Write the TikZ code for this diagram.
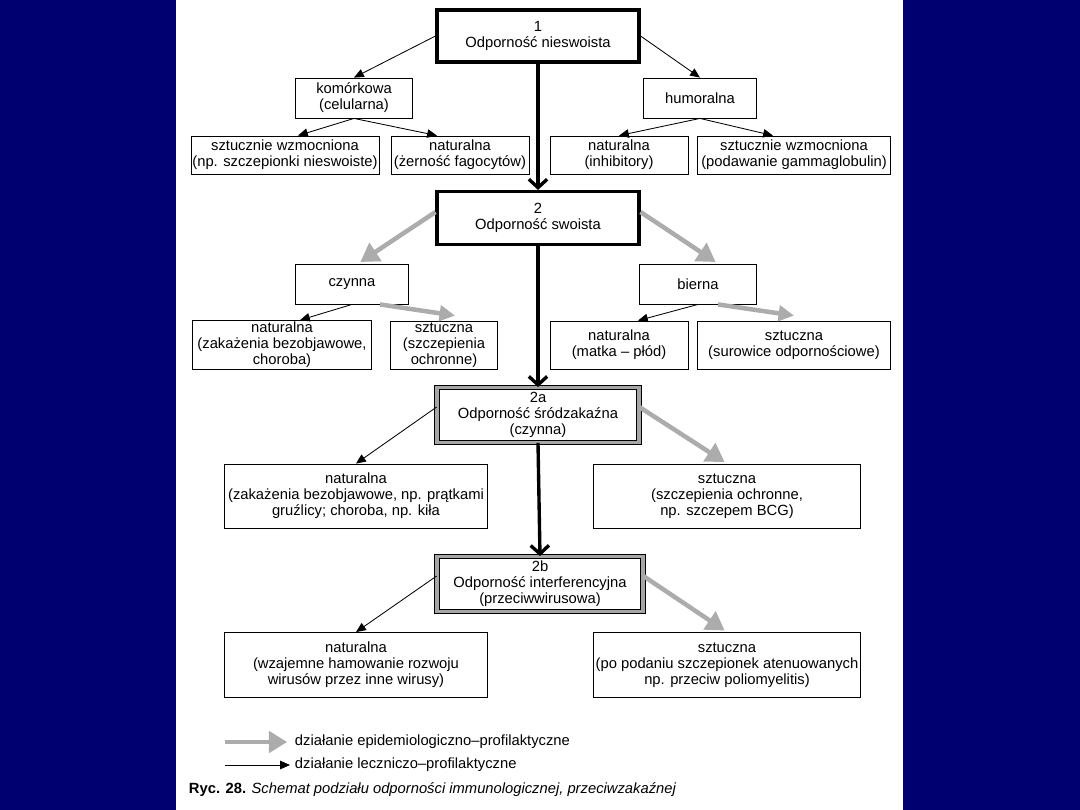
\documentclass[tikz,border=0pt]{standalone}
\usepackage{fontspec}
\setmainfont{Liberation Sans}
\usetikzlibrary{arrows.meta, calc}
\definecolor{slidebg}{RGB}{0,0,112}
\tikzstyle{box} = [rectangle, draw=black, line width=0.6pt, fill=white, align=center, inner sep=1pt, font=\fontsize{10.5}{11.5}\selectfont]
\tikzstyle{mainbox} = [box, line width=2.2pt]
\tikzstyle{hatchbox} = [box, line width=0.5pt, double=gray!70, double distance=2.6pt]
\tikzstyle{arrow} = [line width=0.6pt, -{Triangle[length=7pt, width=6pt]}]
\tikzstyle{greyarrow} = [draw=gray!65, line width=3.2pt, shorten >=2pt, -{Triangle[length=13pt, width=15pt]}]
\tikzstyle{mainarrow} = [line width=2.4pt, -{Straight Barb[length=6pt, width=13pt]}]

\begin{document}
\begin{tikzpicture}[x=0.025cm, y=-0.025cm, sz/.style 2 args={minimum width=#1*0.025cm, minimum height=#2*0.025cm}]
  \fill[slidebg] (0,0) rectangle (1080,810);
  \fill[white] (176,0) rectangle (903,810);

  % 1
  \node[mainbox, sz={202}{52}] (n1) at (538,36) {1\\Odporność nieswoista};
  \node[box, sz={117}{40}] (kom) at (354,98) {komórkowa\\(celularna)};
  \node[box, sz={113}{40}] (hum) at (700,98) {humoralna};
  \node[box, sz={185}{38}] (szw1) at (285,155) {sztucznie wzmocniona\\(np. szczepionki nieswoiste)};
  \node[box, sz={138}{38}] (nat1) at (460,155) {naturalna\\(żerność fagocytów)};
  \node[box, sz={138}{38}] (nat2) at (619,155) {naturalna\\(inhibitory)};
  \node[box, sz={193}{38}] (szw2) at (794,155) {sztucznie wzmocniona\\(podawanie gammaglobulin)};

  % 2
  \node[mainbox, sz={202}{53}] (n2) at (538,218) {2\\Odporność swoista};
  \node[box, sz={113}{40}] (czy) at (352,284) {czynna};
  \node[box, sz={117}{40}] (bie) at (698,284) {bierna};
  \node[box, sz={179}{48}] (nat3) at (282,345) {naturalna\\(zakażenia bezobjawowe,\\choroba)};
  \node[box, sz={107}{48}] (szt3) at (444,345) {sztuczna\\(szczepienia\\ochronne)};
  \node[box, sz={138}{48}] (nat4) at (619,345) {naturalna\\(matka – płód)};
  \node[box, sz={193}{48}] (szt4) at (794,345) {sztuczna\\(surowice odpornościowe)};

  % 2a
  \node[hatchbox, sz={202}{55}] (n2a) at (538,415) {2a\\Odporność śródzakaźna\\(czynna)};
  \node[box, sz={263}{64}] (nat5) at (356,496) {naturalna\\(zakażenia bezobjawowe, np. prątkami\\gruźlicy; choroba, np. kiła};
  \node[box, sz={267}{64}] (szt5) at (727,496) {sztuczna\\(szczepienia ochronne,\\np. szczepem BCG)};

  % 2b
  \node[hatchbox, sz={206}{55}] (n2b) at (540,584) {2b\\Odporność interferencyjna\\(przeciwwirusowa)};
  \node[box, sz={263}{65}] (nat6) at (356,665) {naturalna\\(wzajemne hamowanie rozwoju\\wirusów przez inne wirusy)};
  \node[box, sz={267}{65}] (szt6) at (727,665) {sztuczna\\(po podaniu szczepionek atenuowanych\\np. przeciw poliomyelitis)};

  \draw[mainarrow] (n1.south) -- (n2.north);
  \draw[mainarrow] (n2.south) -- (n2a.north);
  \draw[mainarrow] (n2a.south) -- (n2b.north);

  \draw[arrow] (n1.west) -- (kom.north);
  \draw[arrow] (n1.east) -- (hum.north);
  \draw[arrow] (kom.south) -- ($(szw1.north)+(13,0)$);
  \draw[arrow] (kom.south) -- ($(nat1.north)+(-23,0)$);
  \draw[arrow] (hum.south) -- (nat2.north);
  \draw[arrow] (hum.south) -- ($(szw2.north)+(-21,0)$);

  \draw[greyarrow] ($(n2.west)+(0,-6)$) -- ($(czy.north)+(6,0)$);
  \draw[greyarrow] ($(n2.east)+(0,-6)$) -- ($(bie.north)+(20,0)$);
  \draw[arrow] (czy.south) -- ($(nat3.north)+(18,0)$);
  \draw[greyarrow, shorten >=0pt, -{Triangle[length=11pt, width=11pt]}] ($(czy.south)+(28,0)$) -- ($(szt3.north)+(11,-5)$);
  \draw[arrow] (bie.south) -- ($(nat4.north)+(19,0)$);
  \draw[greyarrow, shorten >=0pt, -{Triangle[length=11pt, width=11pt]}] ($(bie.south)+(20,0)$) -- ($(szt4.north)+(0,-5)$);

  \draw[arrow] ($(n2a.west)+(0,-8)$) -- (nat5.north);
  \draw[greyarrow] ($(n2a.east)+(0,-8)$) -- (szt5.north);
  \draw[arrow] ($(n2b.west)+(0,-8)$) -- (nat6.north);
  \draw[greyarrow] ($(n2b.east)+(0,-8)$) -- (szt6.north);

  % legenda
  \coordinate (lg1) at (225,742);
  \coordinate (lg2) at (225,765);
  \node[anchor=west, font=\fontsize{10.5}{11.5}\selectfont] (leg1) at (290,742) {działanie epidemiologiczno–profilaktyczne};
  \node[anchor=west, font=\fontsize{10.5}{11.5}\selectfont] (leg2) at (290,765) {działanie leczniczo–profilaktyczne};
  \draw[greyarrow] (lg1) -- (leg1.west);
  \draw[arrow] (lg2) -- (leg2.west);
  \node[anchor=west, font=\fontsize{10.5}{11.5}\selectfont] (ryc) at (184,790) {\textbf{Ryc. 28.} \textit{Schemat podziału odporności immunologicznej, przeciwzakaźnej}};
\end{tikzpicture}
\end{document}
